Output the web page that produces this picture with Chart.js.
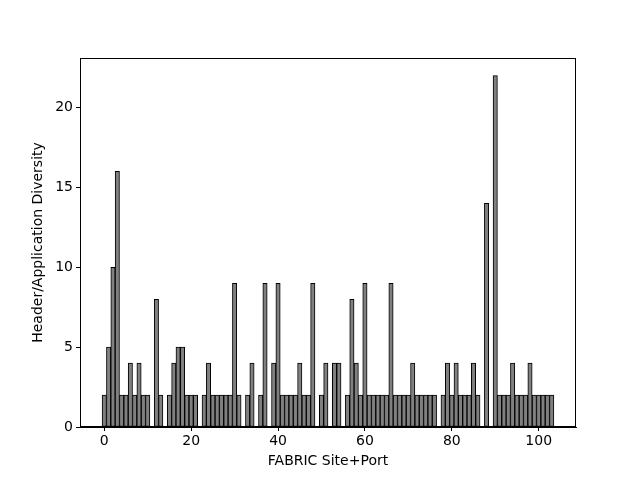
<!DOCTYPE html>
<html>
<head>
<meta charset="utf-8">
<script src="https://cdn.jsdelivr.net/npm/chart.js@4"></script>
<style>
  html, body { margin: 0; padding: 0; background: #fff; }
  #wrap { width: 640px; height: 480px; }
</style>
</head>
<body>
<div id="wrap"><canvas id="chart"></canvas></div>
<script>
// Header/Application Diversity per FABRIC site+port

var sitePorts = [];
for (var i = 0; i <= 103; i++) sitePorts.push(i);

var diversity = [
    2, 5, 10, 16, 2, 2, 4, 2, 4, 2,
    2, 0, 8, 2, 0, 2, 4, 5, 5, 2,
    2, 2, 0, 2, 4, 2, 2, 2, 2, 2,
    9, 2, 0, 2, 4, 0, 2, 9, 0, 4,
    9, 2, 2, 2, 2, 4, 2, 2, 9, 0,
    2, 4, 0, 4, 4, 0, 2, 8, 4, 2,
    9, 2, 2, 2, 2, 2, 9, 2, 2, 2,
    2, 4, 2, 2, 2, 2, 2, 0, 2, 4,
    2, 4, 2, 2, 2, 4, 2, 0, 14, 0,
    22, 2, 2, 2, 4, 2, 2, 2, 4, 2,
    2, 2, 2, 2
];

var xTicks = [0, 20, 40, 60, 80, 100];
var yTicks = [0, 5, 10, 15, 20];

var font = { family: 'DejaVu Sans', size: 14 };

var frame = {
    id: 'frame',
    afterDraw: function (chart) {
        var a = chart.chartArea, c = chart.ctx;
        c.save();
        c.strokeStyle = '#000';
        c.lineWidth = 1;
        c.strokeRect(Math.round(a.left) + 0.5, Math.round(a.top) + 0.5,
            Math.round(a.right - a.left) - 1, Math.round(a.bottom - a.top) - 1);
        c.restore();
    }
};

var ctx = document.getElementById('chart').getContext('2d');
var chart = new Chart(ctx, {
    type: 'bar',
    data: {
        datasets: [{
            data: sitePorts.map(function (x, i) { return { x: x, y: diversity[i] }; }),
            backgroundColor: '#808080',
            borderColor: '#000',
            borderWidth: 1,
            borderSkipped: false,
            barPercentage: 1.0,
            categoryPercentage: 1.0
        }]
    },
    plugins: [frame],
    options: {
        responsive: true,
        maintainAspectRatio: false,
        animation: false,
        layout: { padding: { left: 0, top: 58, right: 64, bottom: 0 } },
        plugins: {
            legend: { display: false },
            tooltip: { enabled: false }
        },
        scales: {
            x: {
                type: 'linear',
                offset: false,
                min: -5.59,
                max: 108.59,
                afterBuildTicks: function (s) { s.ticks = xTicks.map(function (v) { return { value: v }; }); },
                afterFit: function (s) { s.height = 53; },
                grid: { display: true, drawOnChartArea: false, offset: false, tickLength: 4, color: '#000' },
                border: { color: '#000' },
                ticks: { color: '#000', font: font, padding: 2, maxRotation: 0 },
                title: { display: true, text: 'FABRIC Site+Port', color: '#000', font: font, padding: { top: 2, bottom: 10 } }
            },
            y: {
                min: 0,
                max: 23.1,
                afterBuildTicks: function (s) { s.ticks = yTicks.map(function (v) { return { value: v }; }); },
                afterFit: function (s) { s.width = 80; },
                grid: { display: true, drawOnChartArea: false, tickLength: 4, color: '#000' },
                border: { color: '#000' },
                ticks: { color: '#000', font: font, padding: 3 },
                title: { display: true, text: 'Header/Application Diversity', color: '#000', font: font, padding: { top: 30, bottom: 6 } }
            }
        }
    }
});
</script>
</body>
</html>
